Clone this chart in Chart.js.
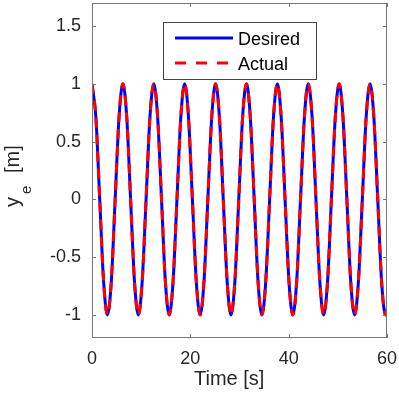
<!DOCTYPE html>
<html>
<head>
<meta charset="utf-8">
<script src="https://cdn.jsdelivr.net/npm/chart.js"></script>
<style>
  html, body { margin: 0; padding: 0; background: #fff; }
  #wrap { width: 399px; height: 403px; position: relative; }
</style>
</head>
<body>
<div id="wrap"><canvas id="trackChart"></canvas></div>
<script>
const timeS = [
  0.00, 0.79, 1.57, 2.36, 3.14, 3.93, 4.71, 5.50,
  6.28, 7.07, 7.85, 8.64, 9.42, 10.21, 11.00, 11.78,
  12.57, 13.35, 14.14, 14.92, 15.71, 16.49, 17.28, 18.06,
  18.85, 19.63, 20.42, 21.21, 21.99, 22.78, 23.56, 24.35,
  25.13, 25.92, 26.70, 27.49, 28.27, 29.06, 29.85, 30.63,
  31.42, 32.20, 32.99, 33.77, 34.56, 35.34, 36.13, 36.91,
  37.70, 38.48, 39.27, 40.06, 40.84, 41.63, 42.41, 43.20,
  43.98, 44.77, 45.55, 46.34, 47.12, 47.91, 48.69, 49.48,
  50.27, 51.05, 51.84, 52.62, 53.41, 54.19, 54.98, 55.76,
  56.55, 57.33, 58.12, 58.90, 59.69, 60.00
];
const desiredY = [
  1, 0.71, 0, -0.71, -1, -0.71, 0, 0.71,
  1, 0.71, 0, -0.71, -1, -0.71, 0, 0.71,
  1, 0.71, 0, -0.71, -1, -0.71, 0, 0.71,
  1, 0.71, 0, -0.71, -1, -0.71, 0, 0.71,
  1, 0.71, 0, -0.71, -1, -0.71, 0, 0.71,
  1, 0.71, 0, -0.71, -1, -0.71, 0, 0.71,
  1, 0.71, 0, -0.71, -1, -0.71, 0, 0.71,
  1, 0.71, 0, -0.71, -1, -0.71, 0, 0.71,
  1, 0.71, 0, -0.71, -1, -0.71, 0, 0.71,
  1, 0.71, 0, -0.71, -1, -0.95
];
const actualY = [
  1, 0.71, 0, -0.71, -1, -0.71, 0, 0.71,
  1, 0.71, 0, -0.71, -1, -0.71, 0, 0.71,
  1, 0.71, 0, -0.71, -1, -0.71, 0, 0.71,
  1, 0.71, 0, -0.71, -1, -0.71, 0, 0.71,
  1, 0.71, 0, -0.71, -1, -0.71, 0, 0.71,
  1, 0.71, 0, -0.71, -1, -0.71, 0, 0.71,
  1, 0.71, 0, -0.71, -1, -0.71, 0, 0.71,
  1, 0.71, 0, -0.71, -1, -0.71, 0, 0.71,
  1, 0.71, 0, -0.71, -1, -0.71, 0, 0.71,
  1, 0.71, 0, -0.71, -1, -0.95
];
const xTicks = [0, 20, 40, 60];
const yTicks = [-1, -0.5, 0, 0.5, 1, 1.5];
const seriesNames = ['Desired', 'Actual'];

const FONT = 'Helvetica, Arial, "Liberation Sans", sans-serif';
const INK = '#262626';

function toPoints(xs, ys) {
  return xs.map((x, i) => ({ x: x, y: ys[i] }));
}

// inward ticks + box, MATLAB style
const framePlugin = {
  id: 'frame',
  afterDraw(chart) {
    const { ctx, chartArea: a, scales } = chart;
    const len = 4;
    ctx.save();
    ctx.strokeStyle = '#777';
    ctx.lineWidth = 1;
    ctx.strokeRect(Math.round(a.left) + 0.5, Math.round(a.top) + 0.5,
      Math.round(a.right - a.left) - 1, Math.round(a.bottom - a.top) - 1);
    ctx.beginPath();
    xTicks.forEach(v => {
      const px = Math.round(scales.x.getPixelForValue(v)) + 0.5;
      ctx.moveTo(px, a.bottom); ctx.lineTo(px, a.bottom - len);
      ctx.moveTo(px, a.top); ctx.lineTo(px, a.top + len);
    });
    yTicks.forEach(v => {
      const py = Math.round(scales.y.getPixelForValue(v)) + 0.5;
      ctx.moveTo(a.left, py); ctx.lineTo(a.left + len, py);
      ctx.moveTo(a.right, py); ctx.lineTo(a.right - len, py);
    });
    ctx.stroke();

    // axis titles
    ctx.fillStyle = INK;
    ctx.textBaseline = 'alphabetic';
    ctx.textAlign = 'left';
    ctx.font = '20px ' + FONT;
    ctx.fillText('Time [s]', 194, 385);

    ctx.save();
    ctx.translate(19, 207);
    ctx.rotate(-Math.PI / 2);
    ctx.font = '20px ' + FONT;
    ctx.fillText('y', 0, 0);
    ctx.font = '15px ' + FONT;
    ctx.fillText('e', 13, 12);
    ctx.font = '20px ' + FONT;
    ctx.fillText('[m]', 34, 0);
    ctx.restore();

    // legend
    const bx = 163.5, by = 22.5, bw = 153, bh = 57;
    ctx.fillStyle = '#fff';
    ctx.fillRect(bx, by, bw, bh);
    ctx.strokeStyle = '#444';
    ctx.strokeRect(bx, by, bw, bh);
    const rows = [38, 63];
    chart.data.datasets.forEach((ds, i) => {
      const y = rows[i];
      ctx.beginPath();
      ctx.strokeStyle = ds.borderColor;
      ctx.lineWidth = 3;
      ctx.setLineDash(ds.borderDash && ds.borderDash.length ? [11, 10] : []);
      ctx.moveTo(175, y);
      ctx.lineTo(233, y);
      ctx.stroke();
      ctx.setLineDash([]);
      ctx.fillStyle = '#000';
      ctx.font = '18px ' + FONT;
      ctx.fillText(ds.label, 238, y + 6.5);
    });
    ctx.restore();
  }
};

function fixPadding(scale) {
  scale.paddingTop = 0;
  scale.paddingBottom = 0;
  scale.paddingLeft = 0;
  scale.paddingRight = 0;
}

new Chart(document.getElementById('trackChart'), {
  type: 'line',
  data: {
    datasets: [{
      label: seriesNames[0],
      data: toPoints(timeS, desiredY),
      borderColor: '#0000ff',
      borderWidth: 3,
      pointRadius: 0,
      cubicInterpolationMode: 'monotone',
      order: 2
    }, {
      label: seriesNames[1],
      data: toPoints(timeS, actualY),
      borderColor: '#ff0000',
      borderWidth: 3,
      borderDash: [10, 7],
      pointRadius: 0,
      cubicInterpolationMode: 'monotone',
      order: 1
    }]
  },
  options: {
    responsive: true,
    maintainAspectRatio: false,
    animation: false,
    events: [],
    layout: { padding: { left: 0, top: 3, right: 12, bottom: 0 } },
    plugins: { legend: { display: false }, tooltip: { enabled: false } },
    scales: {
      x: {
        type: 'linear',
        min: 0,
        max: 60,
        grid: { display: false, drawTicks: false },
        border: { display: false },
        afterBuildTicks: s => { s.ticks = xTicks.map(v => ({ value: v })); },
        afterFit: s => { s.height = 65; fixPadding(s); },
        ticks: {
          color: INK,
          font: { size: 18, family: FONT },
          padding: 10,
          maxRotation: 0,
          callback: v => String(v)
        }
      },
      y: {
        type: 'linear',
        min: -1.2,
        max: 1.7,
        grid: { display: false, drawTicks: false },
        border: { display: false },
        afterBuildTicks: s => { s.ticks = yTicks.map(v => ({ value: v })); },
        afterFit: s => { s.width = 92; fixPadding(s); },
        ticks: {
          color: INK,
          font: { size: 18, family: FONT },
          padding: 11,
          callback: v => String(v)
        }
      }
    }
  },
  plugins: [framePlugin]
});
</script>
</body>
</html>
